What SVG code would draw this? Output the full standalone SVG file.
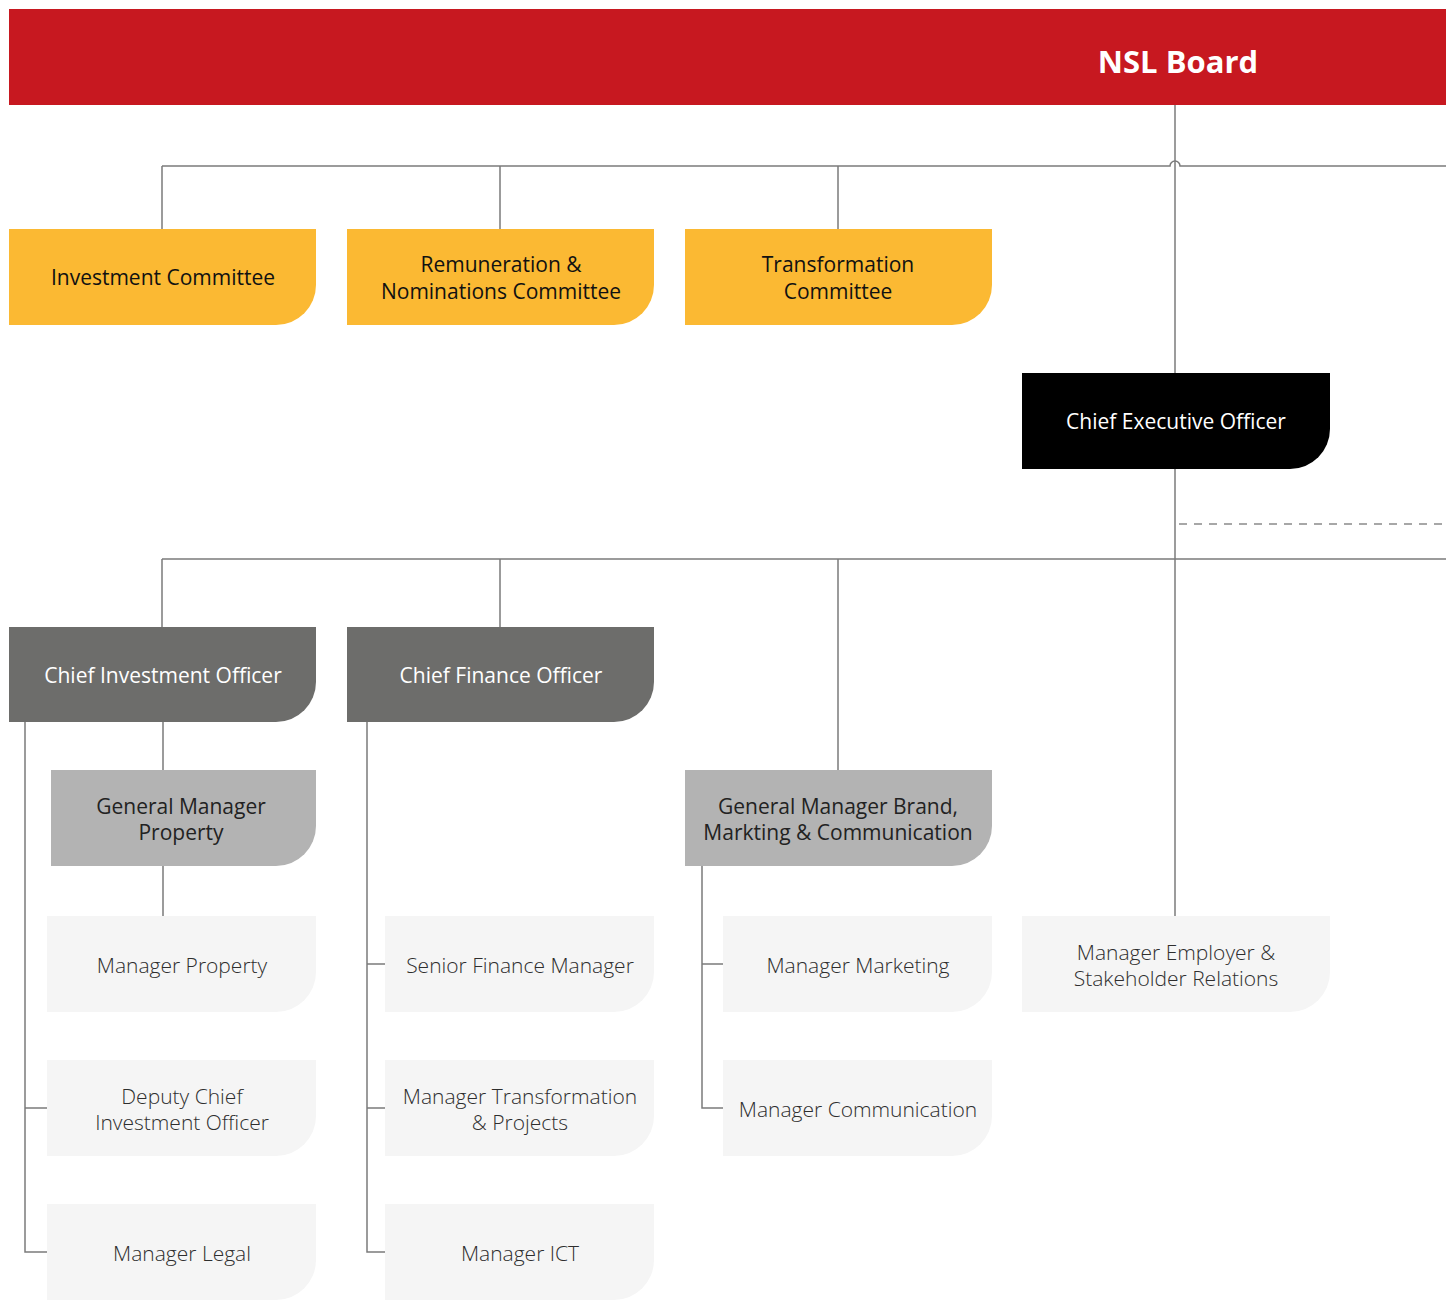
<svg xmlns="http://www.w3.org/2000/svg" width="1446" height="1300" viewBox="0 0 1446 1300">
<style>
.ln{fill:none;stroke:#7b7b7b;stroke-width:1.5}
.dash{fill:none;stroke:#8a8a8a;stroke-width:1.5;stroke-dasharray:8 7}
text{font-family:"Open Sans","Noto Sans","Liberation Sans",sans-serif;text-anchor:middle;font-size:21px}
.com{fill:#fbb933}
.comt{fill:#111;font-weight:500}
.ceo{fill:#000}
.ceot{fill:#fff}
.exec{fill:#6d6d6b}
.exect{fill:#fff}
.gm{fill:#b3b3b3}
.gmt{fill:#222}
.mgr{fill:#f5f5f5}
.mgrt{fill:#2e2e2e;font-weight:300}
</style>
<rect x="0" y="0" width="1446" height="1300" fill="#fff"/>
<g id="connectors">
<path class="ln" d="M1175 105 V373"/>
<path class="ln" d="M162 166 H1170 A5 5 0 0 1 1180 166 H1446"/>
<path class="ln" d="M162 166 V229 M500 166 V229 M838 166 V229"/>
<path class="ln" d="M1175 469 V916"/>
<path class="dash" d="M1179 524 H1446"/>
<path class="ln" d="M162 559 H1446 M162 559 V627 M500 559 V627 M838 559 V770"/>
<path class="ln" d="M163 722 V770 M163 866 V916"/>
<path class="ln" d="M25 722 V1252 H47 M25 1108 H47"/>
<path class="ln" d="M367 722 V1252 H385 M367 964 H385 M367 1108 H385"/>
<path class="ln" d="M702 866 V1108 H723 M702 964 H723"/>
</g>
<g id="board">
<rect x="9" y="9" width="1437" height="96" fill="#c71820"/>
<text x="1178" y="73" fill="#fff" style="font-size:31px;font-weight:700">NSL Board</text>
</g>
<g id="investment-committee">
<path class="com" d="M9 229 H316 V285 A40 40 0 0 1 276 325 H9 Z"/>
<text class="comt" x="163" y="285">Investment Committee</text>
</g>
<g id="remuneration-committee">
<path class="com" d="M347 229 H654 V285 A40 40 0 0 1 614 325 H347 Z"/>
<text class="comt" x="501" y="272">Remuneration &amp;</text>
<text class="comt" x="501" y="299">Nominations Committee</text>
</g>
<g id="transformation-committee">
<path class="com" d="M685 229 H992 V285 A40 40 0 0 1 952 325 H685 Z"/>
<text class="comt" x="838" y="272">Transformation</text>
<text class="comt" x="838" y="299">Committee</text>
</g>
<g id="ceo">
<path class="ceo" d="M1022 373 H1330 V429 A40 40 0 0 1 1290 469 H1022 Z"/>
<text class="ceot" x="1176" y="429">Chief Executive Officer</text>
</g>
<g id="cio">
<path class="exec" d="M9 627 H316 V682 A40 40 0 0 1 276 722 H9 Z"/>
<text class="exect" x="163" y="683">Chief Investment Officer</text>
</g>
<g id="cfo">
<path class="exec" d="M347 627 H654 V682 A40 40 0 0 1 614 722 H347 Z"/>
<text class="exect" x="501" y="683">Chief Finance Officer</text>
</g>
<g id="gm-property">
<path class="gm" d="M51 770 H316 V826 A40 40 0 0 1 276 866 H51 Z"/>
<text class="gmt" x="181" y="814">General Manager</text>
<text class="gmt" x="181" y="840">Property</text>
</g>
<g id="gm-brand">
<path class="gm" d="M685 770 H992 V826 A40 40 0 0 1 952 866 H685 Z"/>
<text class="gmt" x="838" y="814">General Manager Brand,</text>
<text class="gmt" x="838" y="840">Markting &amp; Communication</text>
</g>
<g id="manager-property">
<path class="mgr" d="M47 916 H316 V972 A40 40 0 0 1 276 1012 H47 Z"/>
<text class="mgrt" x="182" y="973">Manager Property</text>
</g>
<g id="deputy-cio">
<path class="mgr" d="M47 1060 H316 V1116 A40 40 0 0 1 276 1156 H47 Z"/>
<text class="mgrt" x="182" y="1104">Deputy Chief</text>
<text class="mgrt" x="182" y="1130">Investment Officer</text>
</g>
<g id="manager-legal">
<path class="mgr" d="M47 1204 H316 V1260 A40 40 0 0 1 276 1300 H47 Z"/>
<text class="mgrt" x="182" y="1261">Manager Legal</text>
</g>
<g id="senior-finance-manager">
<path class="mgr" d="M385 916 H654 V972 A40 40 0 0 1 614 1012 H385 Z"/>
<text class="mgrt" x="520" y="973">Senior Finance Manager</text>
</g>
<g id="manager-transformation">
<path class="mgr" d="M385 1060 H654 V1116 A40 40 0 0 1 614 1156 H385 Z"/>
<text class="mgrt" x="520" y="1104">Manager Transformation</text>
<text class="mgrt" x="520" y="1130">&amp; Projects</text>
</g>
<g id="manager-ict">
<path class="mgr" d="M385 1204 H654 V1260 A40 40 0 0 1 614 1300 H385 Z"/>
<text class="mgrt" x="520" y="1261">Manager ICT</text>
</g>
<g id="manager-marketing">
<path class="mgr" d="M723 916 H992 V972 A40 40 0 0 1 952 1012 H723 Z"/>
<text class="mgrt" x="858" y="973">Manager Marketing</text>
</g>
<g id="manager-communication">
<path class="mgr" d="M723 1060 H992 V1116 A40 40 0 0 1 952 1156 H723 Z"/>
<text class="mgrt" x="858" y="1117">Manager Communication</text>
</g>
<g id="manager-employer">
<path class="mgr" d="M1022 916 H1330 V972 A40 40 0 0 1 1290 1012 H1022 Z"/>
<text class="mgrt" x="1176" y="960">Manager Employer &amp;</text>
<text class="mgrt" x="1176" y="986">Stakeholder Relations</text>
</g>
</svg>
